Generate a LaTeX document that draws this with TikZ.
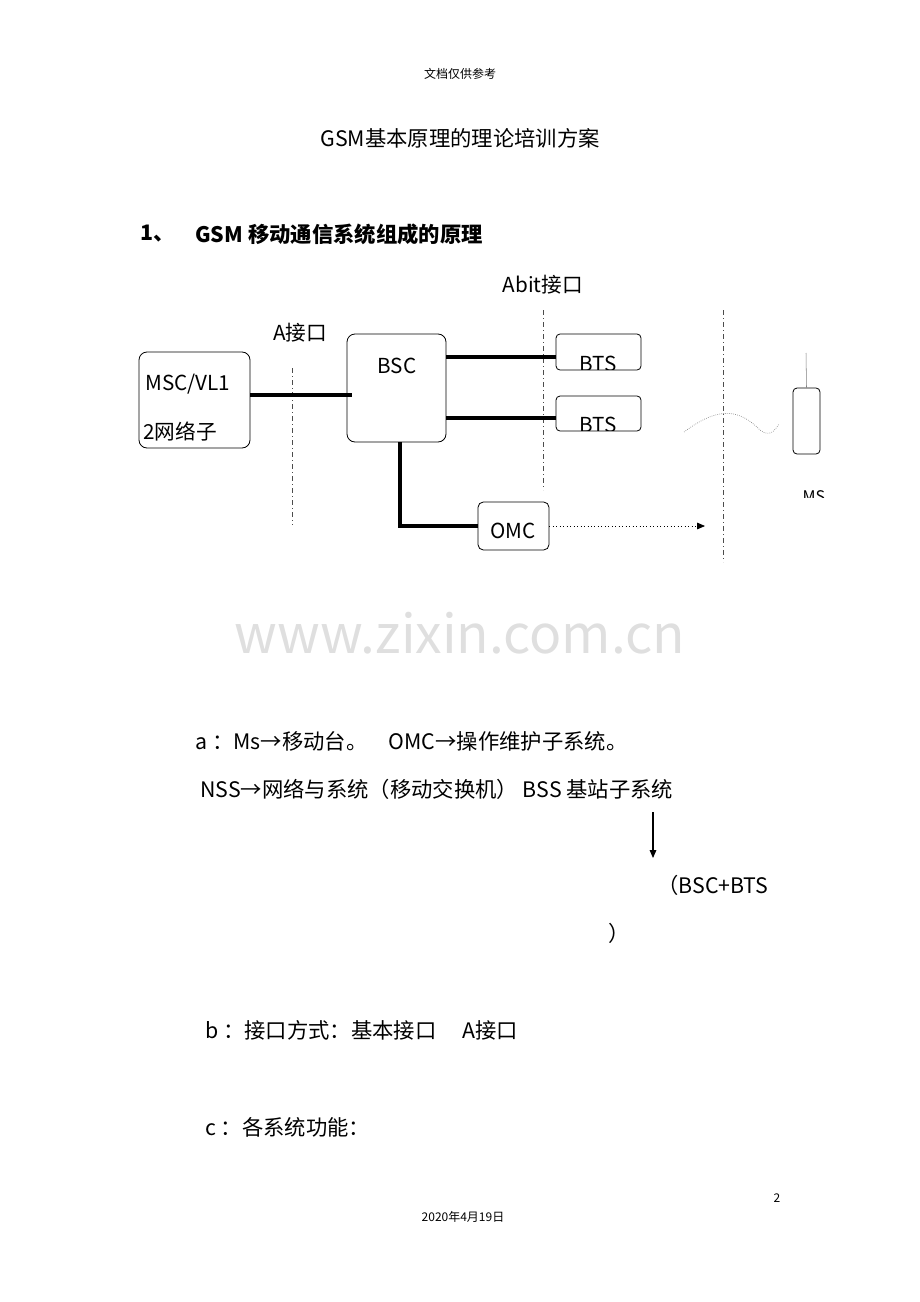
\documentclass[tikz,border=0pt]{standalone}
\usepackage{fontspec}
\setmainfont{Noto Sans CJK SC}
\usetikzlibrary{arrows.meta}
\begin{document}
\begin{tikzpicture}[x=0.75pt,y=-0.75pt,
  box/.style={draw,rounded corners=6pt,line width=0.6pt},
  tlink/.style={line width=3pt},
  sep/.style={dash pattern=on 4pt off 2pt on 1pt off 2pt,line width=0.4pt,gray!60!black},
  body/.style={anchor=west,font=\fontsize{16}{19}\selectfont,inner sep=0pt},
  lbl/.style={font=\fontsize{15.5}{18}\selectfont,inner sep=0pt}]
\useasboundingbox (0,0) rectangle (920,1302);
\node[font=\fontsize{9}{11}\selectfont] (hdr) at (460,74) {文档仅供参考};
\node[font=\fontsize{16}{19}\selectfont] (title) at (460,138) {GSM基本原理的理论培训方案};
\node[body,font=\bfseries\fontsize{16}{19}\selectfont] (n1) at (140,234) {1、};
\node[body,font=\bfseries\fontsize{16}{19}\selectfont] (h1) at (195,234) {GSM 移动通信系统组成的原理};
\node[lbl] (abit) at (543,285) {Abit接口};
\node[lbl] (aif) at (300,333) {A接口};
% separators
\coordinate (s1a) at (292,368); \coordinate (s1b) at (292,525);
\coordinate (s2a) at (543,310); \coordinate (s2b) at (543,490);
\coordinate (s3a) at (723,310); \coordinate (s3b) at (723,562);
\draw[sep] (s1a) -- (s1b);
\draw[sep] (s2a) -- (s2b);
\draw[sep] (s3a) -- (s3b);
% boxes
\node[box,minimum width=111*0.75pt,minimum height=96*0.75pt] (msc) at (194.5,400) {};
\node[lbl,anchor=west] (msct1) at (145,384) {MSC/VL1};
\node[lbl,anchor=west] (msct2) at (143,432) {2网络子};
\node[box,minimum width=99*0.75pt,minimum height=108*0.75pt] (bsc) at (396.5,388) {};
\node[lbl] (bsct) at (397,366) {BSC};
\node[box,minimum width=85*0.75pt,minimum height=36*0.75pt,rounded corners=3pt] (bts1) at (598.5,352) {};
\begin{scope}\clip (556,334) rectangle (641,369);
\node[lbl] (bts1t) at (598,364) {BTS};\end{scope}
\node[box,minimum width=85*0.75pt,minimum height=35*0.75pt,rounded corners=3pt] (bts2) at (598.5,413.5) {};
\begin{scope}\clip (556,396) rectangle (641,430);
\node[lbl] (bts2t) at (598,425) {BTS};\end{scope}
\node[box,minimum width=71*0.75pt,minimum height=48*0.75pt,rounded corners=4pt] (omc) at (513.5,526) {};
\node[lbl] (omct) at (513,531) {OMC};
% links
\draw[tlink] (msc.east |- 0,395) -- (352,395);
\draw[tlink] (bsc.east |- 0,357) -- (bts1.west |- 0,357);
\draw[tlink] (bsc.east |- 0,418) -- (bts2.west |- 0,418);
\draw[tlink] (400,442) |- (omc.west);
\coordinate (arrEnd) at (705,526);
\draw[dotted,line width=0.6pt,-{Triangle[length=6pt,width=5pt]}] (omc.east) -- (arrEnd);
% wave
\coordinate (w1) at (684,432); \coordinate (w2) at (779,424);
\draw[gray,line width=0.5pt,densely dotted] (w1) .. controls (720,405) and (740,410) .. (760,430) .. controls (770,438) and (775,430) .. (w2);
% MS
\node[box,minimum width=27*0.75pt,minimum height=66*0.75pt,rounded corners=3pt] (ms) at (806.5,421) {};
\coordinate (ant) at (806,353);
\draw[gray,line width=0.4pt] (ms.north) -- (ant);
\begin{scope}\clip (790,480) rectangle (840,497);
\node[lbl,font=\fontsize{12}{14}\selectfont] (mst) at (814,497) {MS};\end{scope}
% watermark
\node[font=\fontsize{40}{46}\selectfont,text=gray!25] (wm) at (460,633) {www.zixin.com.cn};
% texts
\node[body] (ta) at (195,741) {a ：Ms→移动台。\quad OMC→操作维护子系统。};
\node[body] (tn) at (200,789) {NSS→网络与系统（移动交换机） BSS 基站子系统};
\coordinate (da) at (653,812); \coordinate (db) at (653,858);
\draw[line width=0.8pt,-{Triangle[length=6pt,width=5pt]}] (da) -- (db);
\node[body] (tbsc) at (657,885) {（BSC+BTS};
\node[body] (tpar) at (608,933) {）};
\node[body] (tb) at (205,1030) {b ：接口方式：基本接口\quad\ A接口};
\node[body] (tc) at (205,1127) {c ：各系统功能：};
\node[font=\fontsize{9}{11}\selectfont] (pg) at (777,1198) {2};
\node[font=\fontsize{9}{11}\selectfont] (dt) at (463,1217) {2020年4月19日};
\end{tikzpicture}
\end{document}
